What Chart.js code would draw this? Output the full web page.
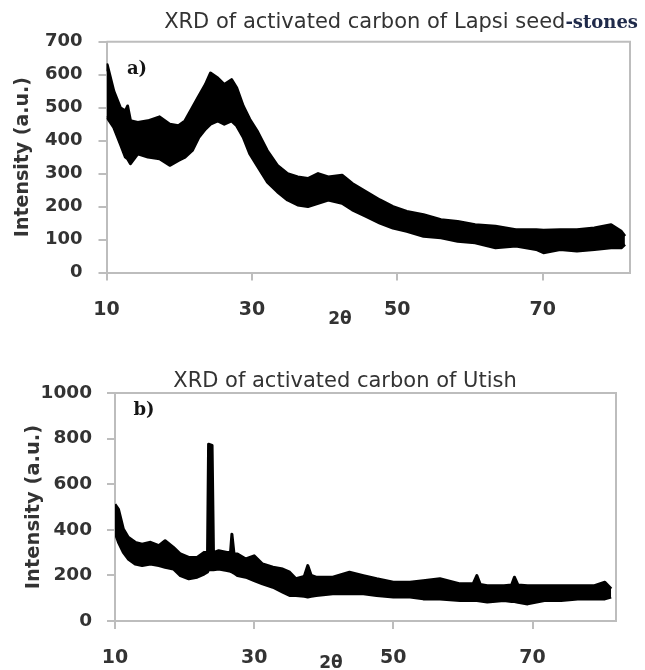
<!DOCTYPE html>
<html>
<head>
<meta charset="utf-8">
<script src="https://cdn.jsdelivr.net/npm/chart.js@4.4.1/dist/chart.umd.min.js"></script>
<style>
html, body { margin: 0; padding: 0; background: #ffffff; }
#wrap { position: relative; width: 645px; height: 670px; overflow: hidden; }
.box { position: absolute; left: 0; width: 645px; height: 335px; }
</style>
</head>
<body>
<div id="wrap">
  <div class="box" style="top:0px"><canvas id="chartA" width="645" height="335"></canvas></div>
  <div class="box" style="top:335px"><canvas id="chartB" width="645" height="335"></canvas></div>
</div>
<script>
// ---------- DATA ----------
// a) Lapsi seed-stones: 2θ positions and upper / lower edge of the noisy trace
const twoThetaA = [10.0, 10.1, 11.0, 11.9, 12.6, 12.9, 13.3, 14.3, 15.7, 17.3, 18.7, 19.9, 20.8, 21.8, 22.7, 23.6, 24.3, 25.3, 26.2, 27.2, 27.9, 28.8, 29.7, 30.7, 32.1, 33.5, 34.9, 36.3, 37.7, 39.1, 40.5, 42.4, 43.8, 45.7, 47.6, 49.4, 51.3, 53.6, 56.0, 58.3, 60.7, 63.5, 66.3, 69.1, 70.1, 72.4, 74.7, 77.1, 79.4, 80.8, 81.3];
const upperA = [610, 630, 550, 500, 490, 505, 460, 455, 460, 472, 450, 445, 460, 500, 535, 570, 605, 590, 570, 585, 560, 505, 465, 430, 370, 325, 300, 290, 285, 300, 290, 295, 270, 245, 220, 200, 185, 175, 160, 155, 145, 140, 130, 130, 128, 130, 130, 135, 145, 125, 110];
const lowerA = [470, 470, 440, 390, 350, 345, 330, 360, 350, 345, 325, 340, 350, 370, 410, 435, 450, 460, 450, 460, 445, 410, 360, 325, 275, 245, 220, 205, 200, 210, 220, 210, 190, 170, 150, 135, 125, 110, 105, 95, 90, 75, 80, 70, 60, 70, 65, 70, 75, 75, 85];

// b) Utish
const twoThetaB = [10.0, 10.5, 11.2, 11.9, 12.9, 13.9, 15.1, 16.3, 17.2, 18.4, 19.4, 20.6, 21.8, 22.8, 23.3, 23.45, 23.95, 24.15, 24.9, 26.1, 26.6, 26.8, 27.1, 27.6, 28.8, 30.0, 31.2, 32.7, 34.1, 35.1, 36.0, 37.2, 37.7, 38.2, 38.9, 41.3, 43.7, 45.7, 47.6, 50.0, 52.4, 54.3, 56.7, 59.6, 61.5, 62.0, 62.5, 63.5, 65.9, 67.0, 67.4, 67.9, 69.3, 71.7, 74.1, 76.5, 78.9, 80.4, 81.3];
const upperB = [512, 490, 403, 367, 345, 337, 345, 330, 352, 323, 294, 279, 279, 301, 300, 775, 770, 300, 308, 301, 300, 381, 295, 294, 272, 286, 250, 236, 228, 214, 185, 195, 243, 200, 192, 192, 214, 199, 185, 170, 170, 177, 185, 163, 165, 199, 160, 155, 155, 158, 192, 158, 155, 155, 155, 155, 155, 170, 141];
const lowerB = [388, 345, 301, 272, 250, 243, 250, 243, 236, 228, 199, 185, 192, 206, 215, 225, 225, 225, 228, 221, 218, 215, 210, 199, 192, 177, 163, 148, 127, 112, 112, 108, 105, 108, 112, 119, 119, 119, 112, 105, 105, 97, 97, 90, 90, 90, 88, 83, 90, 85, 85, 82, 75, 90, 90, 97, 97, 97, 105];

// axes
const xTickValues = [10, 30, 50, 70];
const xRange = [10, 82];
const yRangeA = [0, 700], yStepA = 100;
const yRangeB = [0, 1000], yStepB = 200;

// texts
const titleA = 'XRD of activated carbon of Lapsi seed';
const titleAEnd = '-stones';
const titleB = 'XRD of activated carbon of Utish';
const yTitle = 'Intensity (a.u.)';
const xTitle = '2θ';
const panelA = 'a)';
const panelB = 'b)';

// ---------- helpers ----------
const GRAY = '#bdbdbd';
const TXT = '#333333';

const decor = {
  id: 'decor',
  afterDraw(chart, args, opts) {
    const ctx = chart.ctx, a = chart.chartArea;
    ctx.save();
    ctx.strokeStyle = GRAY;
    ctx.lineWidth = 2;
    ctx.beginPath();
    ctx.moveTo(a.left, a.top);
    ctx.lineTo(a.right, a.top);
    ctx.lineTo(a.right, a.bottom);
    ctx.stroke();
    ctx.textBaseline = 'middle';
    for (const t of opts.texts) {
      ctx.font = t.font;
      ctx.fillStyle = t.color;
      ctx.textAlign = t.align || 'center';
      ctx.fillText(t.text, t.x, t.y);
    }
    ctx.restore();
  }
};

function makeChart(id, xs, up, lo, yRange, yStep, cfg) {
  const lowerPts = xs.map((x, i) => ({ x: x, y: lo[i] }));
  const upperPts = xs.map((x, i) => ({ x: x, y: up[i] }));
  return new Chart(document.getElementById(id), {
    type: 'line',
    data: {
      datasets: [
        { label: 'lower', data: lowerPts, borderColor: '#000', borderWidth: 3, pointRadius: 0, fill: false, tension: 0, borderJoinStyle: 'round' },
        { label: 'upper', data: upperPts, borderColor: '#000', borderWidth: 3, pointRadius: 0, fill: '-1', backgroundColor: '#000', tension: 0, borderJoinStyle: 'round' }
      ]
    },
    options: {
      responsive: false,
      animation: false,
      events: [],
      layout: { padding: { left: 0, top: cfg.top, right: cfg.right, bottom: 0 } },
      plugins: {
        legend: { display: false },
        tooltip: { enabled: false },
        title: { display: false },
        decor: { texts: cfg.texts }
      },
      scales: {
        x: {
          type: 'linear',
          min: xRange[0], max: xRange[1],
          afterBuildTicks: (s) => { s.ticks = xTickValues.map(v => ({ value: v })); },
          afterFit: (s) => { s.height = cfg.xH; },
          grid: { drawOnChartArea: false, drawTicks: true, tickLength: 8, color: GRAY, lineWidth: 2 },
          border: { color: GRAY, width: 2 },
          ticks: { color: TXT, font: { family: 'DejaVu Sans', weight: 'bold', size: 19 }, padding: 18, maxRotation: 0, callback: (v) => String(v) }
        },
        y: {
          min: yRange[0], max: yRange[1],
          ticks: { stepSize: yStep, color: TXT, font: { family: 'DejaVu Sans', weight: 'bold', size: cfg.yFont }, padding: cfg.yPad, callback: (v) => String(v) },
          afterFit: (s) => { s.width = cfg.yW; },
          grid: { drawOnChartArea: false, drawTicks: true, tickLength: 8, color: GRAY, lineWidth: 2 },
          border: { color: GRAY, width: 2 },
          title: { display: true, text: yTitle, color: TXT, font: { family: 'DejaVu Sans', weight: 'bold', size: cfg.yTitleFont }, padding: { top: cfg.yTitlePad, bottom: 0 } }
        }
      }
    },
    plugins: [decor]
  });
}

// width of the "-stones" part, to right-align the two-font title
const mctx = document.createElement('canvas').getContext('2d');
mctx.font = 'bold 18px "DejaVu Serif"';
const endW = mctx.measureText(titleAEnd).width;
const titleRight = 638;

makeChart('chartA', twoThetaA, upperA, lowerA, yRangeA, yStepA, {
  top: 41.7, right: 15, xH: 335 - 272.5, yW: 106.5, yFont: 18, yPad: 16, yTitleFont: 19, yTitlePad: 11.6,
  texts: [
    { text: titleA, x: titleRight - endW, y: 23, font: '21px "DejaVu Sans"', color: TXT, align: 'right' },
    { text: titleAEnd, x: titleRight, y: 23, font: 'bold 18px "DejaVu Serif"', color: '#1f2a4a', align: 'right' },
    { text: panelA, x: 137, y: 69, font: 'bold 18px "DejaVu Serif"', color: '#151515' },
    { text: xTitle, x: 340, y: 320, font: 'bold 17px "DejaVu Sans"', color: TXT }
  ]
});

makeChart('chartB', twoThetaB, upperB, lowerB, yRangeB, yStepB, {
  top: 58, right: 29, xH: 335 - 286, yW: 115, yFont: 18.5, yPad: 15, yTitleFont: 19.5, yTitlePad: 22.3,
  texts: [
    { text: titleB, x: 345, y: 46.5, font: '21px "DejaVu Sans"', color: TXT },
    { text: panelB, x: 144, y: 75, font: 'bold 18px "DejaVu Serif"', color: '#151515' },
    { text: xTitle, x: 331, y: 329, font: 'bold 17px "DejaVu Sans"', color: TXT }
  ]
});
</script>
</body>
</html>
